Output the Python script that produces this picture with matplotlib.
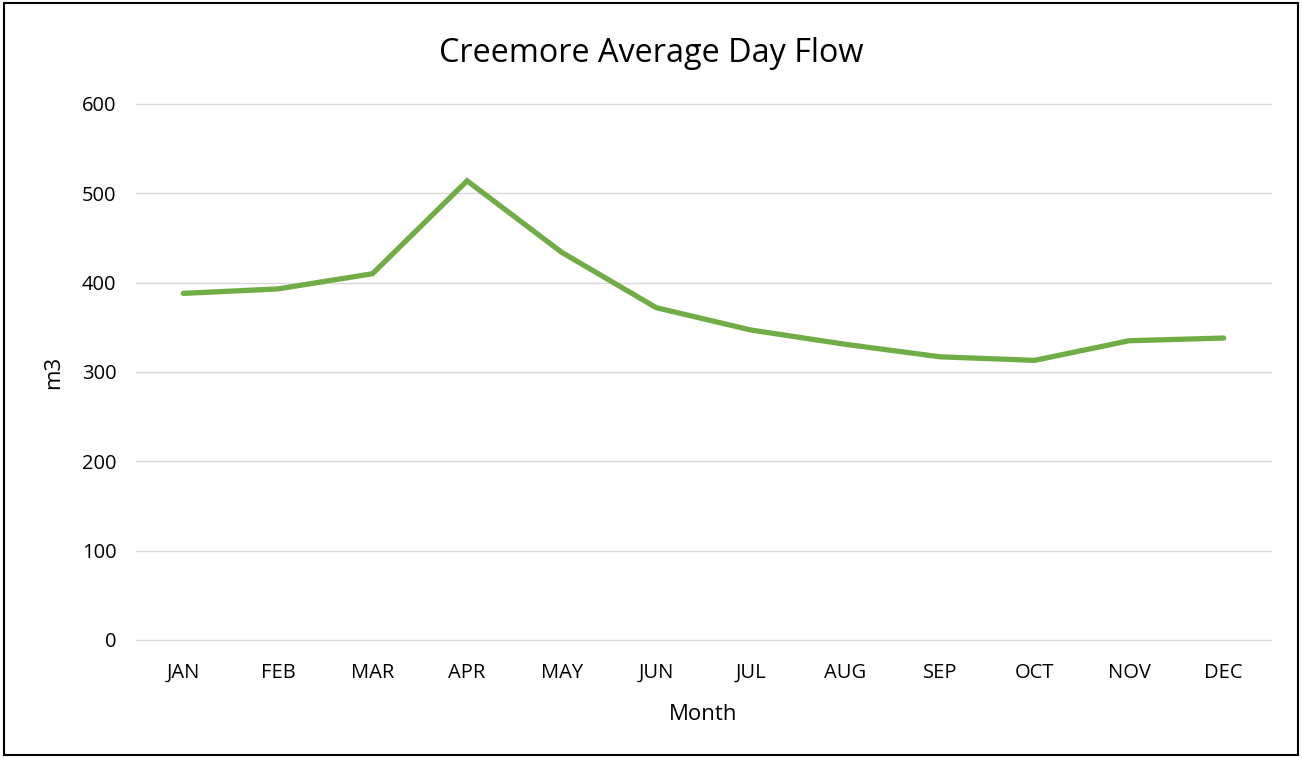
import matplotlib
matplotlib.use('Agg')
import matplotlib.pyplot as plt
from matplotlib.patches import Rectangle

months = ['JAN', 'FEB', 'MAR', 'APR', 'MAY', 'JUN',
          'JUL', 'AUG', 'SEP', 'OCT', 'NOV', 'DEC']
flow = [388, 393, 410, 514, 434, 372, 347, 331, 317, 313, 335, 338]
yticks = [0, 100, 200, 300, 400, 500, 600]

plt.rcParams['font.family'] = ['Open Sans', 'DejaVu Sans']

fig = plt.figure(figsize=(13.02, 7.58), dpi=100)
ax = fig.add_axes([0.1045, 0.1557, 0.8717, 0.7071])

x = list(range(len(months)))
ax.plot(x, flow, color='#70AD47', linewidth=3.8, solid_capstyle='round',
        solid_joinstyle='miter', zorder=3)

ax.set_xlim(-0.5, len(months) - 0.5)
ax.set_ylim(0, 600)
ax.set_yticks(yticks)
ax.set_xticks(x)
ax.set_xticklabels(months)
ax.grid(True, axis='y', color='#D9D9D9', linewidth=1.0)
for gl in ax.get_ygridlines():
    gl.set_clip_on(False)
ax.set_axisbelow(True)
for s in ax.spines.values():
    s.set_visible(False)
ax.tick_params(axis='both', length=0, labelsize=14.5, colors='#000000')
ax.tick_params(axis='x', pad=16.5)
ax.tick_params(axis='y', pad=14)

fig.text(0.5, 0.930, 'Creemore Average Day Flow', fontsize=23.3,
         ha='center', va='center')
ax.set_xlabel('Month', fontsize=16, labelpad=15)
ax.set_ylabel('m3', fontsize=16, labelpad=13)

fig.patches.append(Rectangle((0.003, 0.004), 0.994, 0.992, transform=fig.transFigure,
                             fill=False, edgecolor='black', linewidth=1.5))

fig.savefig('out.png', dpi=100)
